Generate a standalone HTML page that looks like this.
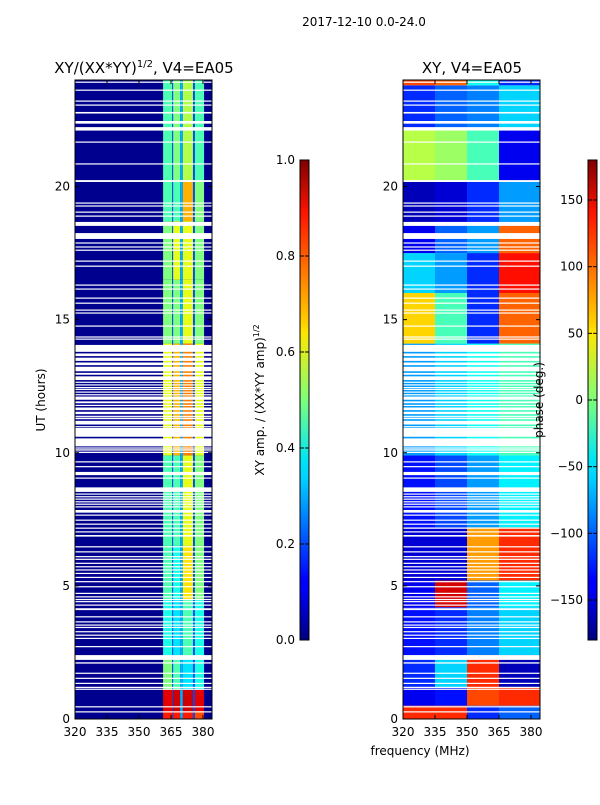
<!DOCTYPE html>
<html><head><meta charset="utf-8">
<style>
html,body{margin:0;padding:0;background:#fff;}
svg text{font-family:"DejaVu Sans","Liberation Sans",sans-serif;fill:#000;}
</style></head>
<body>
<svg id="fig" width="600" height="800" viewBox="0 0 600 800">
<defs>
<linearGradient id="jet" x1="0" y1="1" x2="0" y2="0">
<stop offset="0" stop-color="#00007f"/><stop offset="0.11" stop-color="#0000ff"/><stop offset="0.125" stop-color="#0000ff"/>
<stop offset="0.34" stop-color="#00d4ff"/><stop offset="0.375" stop-color="#00e5f7"/><stop offset="0.5" stop-color="#7dff7a"/>
<stop offset="0.64" stop-color="#ffe600"/><stop offset="0.66" stop-color="#ffd000"/><stop offset="0.89" stop-color="#ff1300"/><stop offset="1" stop-color="#7f0000"/>
</linearGradient>
</defs>
<text x="364" y="26" font-size="12" text-anchor="middle">2017-12-10 0.0-24.0</text>
<text x="144" y="73" font-size="15" text-anchor="middle">XY/(XX*YY)<tspan font-size="10" dy="-6">1/2</tspan><tspan dy="6">, V4=EA05</tspan></text>
<text x="472" y="73" font-size="15" text-anchor="middle">XY, V4=EA05</text>
<g id="ampPanel"></g>
<g id="phPanel"></g>
<g id="axes"></g>
<text transform="translate(45,400) rotate(-90)" font-size="12" text-anchor="middle">UT (hours)</text>
<text x="420" y="755" font-size="12" text-anchor="middle">frequency (MHz)</text>
<rect x="300" y="160" width="9" height="480" fill="url(#jet)" stroke="#000" stroke-width="1"/>
<rect x="588" y="160" width="9" height="480" fill="url(#jet)" stroke="#000" stroke-width="1"/>
<text transform="translate(264,400) rotate(-90)" font-size="12" text-anchor="middle">XY amp. / (XX*YY amp)<tspan font-size="8" dy="-5">1/2</tspan></text>
<text transform="translate(543,400) rotate(-90)" font-size="12" text-anchor="middle">phase (deg.)</text>
<g id="cbticks"></g>
</svg>
<script>
// ---- data ----
const utBands = [0,0.3,1.1,2.4,4.5,6.5,9.9,14.1,16.5,18.7,20.2,24];
const ampCol1 = [0.85,0.9,0.5,0.4,0.45,0.45,0.6,0.5,0.5,0.45,0.45];
const ampCol2 = [0.85,0.92,0.45,0.35,0.4,0.45,0.7,0.5,0.6,0.45,0.5];
const ampCol3 = [0.85,0.92,0.35,0.45,0.65,0.6,0.75,0.6,0.6,0.7,0.55];
const ampCol4 = [0.8,0.9,0.4,0.4,0.5,0.5,0.6,0.5,0.5,0.5,0.45];
const phBands = [0,0.5,1.2,2.4,4.2,5.2,7.2,9.9,14.1,16,17.5,18.6,20.2,22.2,23.8,24];
const phSeg1 = [120,-140,-120,-130,-140,-150,-130,-80,60,-60,-140,-160,20,-120,110];
const phSeg2 = [120,-130,-60,-120,150,-150,-110,-60,-20,-80,-100,-150,10,-100,100];
const phSeg3 = [-120,110,120,-90,-100,80,-80,-40,-120,-120,-80,-120,-20,-90,-40];
const phSeg4 = [-100,120,-160,-60,-50,120,-50,-20,100,130,100,-80,-140,-60,-120];
const gaps = [[0.25,0.29],[0.44,0.48],[1.1,1.14],[1.17,1.21],[1.32,1.36],[1.51,1.55],[1.7,1.74],[2.08,2.13],[2.22,2.4],[2.7,2.74],[3.01,3.05],[3.13,3.17],[3.26,3.3],[3.42,3.46],[3.51,3.55],[3.63,3.67],[3.82,3.86],[4.09,4.16],[4.26,4.3],[4.39,4.43],[4.47,4.51],[4.57,4.61],[4.7,4.74],[4.95,4.99],[5.14,5.18],[5.3,5.34],[5.45,5.49],[5.58,5.62],[5.7,5.74],[5.83,5.87],[5.98,6.02],[6.08,6.12],[6.26,6.3],[6.45,6.49],[6.85,6.91],[7.01,7.05],[7.15,7.19],[7.3,7.34],[7.45,7.49],[7.64,7.68],[7.75,7.85],[7.95,7.99],[8.05,8.09],[8.14,8.18],[8.24,8.28],[8.33,8.37],[8.43,8.47],[8.53,8.7],[9.03,9.07],[9.16,9.28],[9.46,9.5],[9.64,9.68],[9.99,10.04],[10.08,10.13],[10.17,10.2],[10.24,10.54],[10.6,10.93],[10.99,11.0],[11.06,11.2],[11.26,11.32],[11.38,11.39],[11.45,11.54],[11.6,11.7],[11.76,11.8],[11.86,11.93],[11.99,12.11],[12.17,12.2],[12.26,12.3],[12.36,12.4],[12.46,12.47],[12.53,12.57],[12.63,12.67],[12.73,12.87],[12.93,13.0],[13.06,13.23],[13.29,13.39],[13.45,13.57],[13.63,13.73],[13.79,14.05],[14.25,14.29],[14.33,14.37],[14.74,14.78],[15.23,15.27],[15.34,15.38],[15.6,15.64],[15.79,15.83],[16.13,16.17],[16.28,16.32],[16.99,17.03],[17.18,17.22],[17.59,17.63],[17.71,17.75],[17.86,17.9],[18.03,18.25],[18.52,18.67],[18.87,18.91],[19.02,19.06],[19.25,19.29],[19.36,19.4],[20.17,20.24],[20.83,20.87],[21.65,21.69],[22.1,22.23],[22.36,22.46],[22.74,22.8],[23.04,23.08],[23.19,23.23],[23.6,23.64],[23.9,23.94]];
const yTicks = [0,5,10,15,20];
const xTicks = [320,335,350,365,380];
const ampTicks = [0.0,0.2,0.4,0.6,0.8,1.0];
const phTicks = [-150,-100,-50,0,50,100,150];

// ---- scales ----
const NS='http://www.w3.org/2000/svg';
const Y0=719,Y1=80;
const yS = h => Y0-(h/24)*(Y0-Y1);
const xL = f => 75+(f-320)*(32/15);
const xR = f => 403+(f-320)*(32/15);
function jet(v){v=Math.max(0,Math.min(1,v));
 const c=x=>Math.round(255*Math.max(0,Math.min(1,x)));
 const r=c(Math.min(4*v-1.5,-4*v+4.5)),g=c(Math.min(4*v-0.5,-4*v+3.5)),b=c(Math.min(4*v+0.5,-4*v+2.5));
 return `rgb(${r},${g},${b})`;}
function rect(g,x,y,w,h,fill,name){const r=document.createElementNS(NS,'rect');
 r.setAttribute('x',x);r.setAttribute('y',y);r.setAttribute('width',w);r.setAttribute('height',h);r.setAttribute('fill',fill);
 
 
 g.appendChild(r);return r;}
function txt(g,x,y,s,anchor,name){const t=document.createElementNS(NS,'text');
 t.setAttribute('x',x);t.setAttribute('y',y);t.setAttribute('font-size','12');t.setAttribute('text-anchor',anchor);t.textContent=s;
 
 
 g.appendChild(t);}
function line(g,x1,y1,x2,y2,name){const l=document.createElementNS(NS,'line');
 l.setAttribute('x1',x1);l.setAttribute('y1',y1);l.setAttribute('x2',x2);l.setAttribute('y2',y2);l.setAttribute('stroke','#000');l.setAttribute('stroke-width','1');
 
 
 g.appendChild(l);}

// ---- amplitude panel ----
const aG=document.getElementById('ampPanel');
rect(aG,75,80,137,639,'#00008f','amp-background');
const colEdges=[[361.3,365.5],[366,369.3],[370.5,375.3],[376.2,380.5]];
const ampCols=[ampCol1,ampCol2,ampCol3,ampCol4];
for(let i=0;i<utBands.length-1;i++){
 const yt=yS(utBands[i+1]),yb=yS(utBands[i]);
 rect(aG,xL(365.5),yt,xL(366)-xL(365.5),yb-yt,jet(0.2),'amp-separator');
 rect(aG,xL(375.3),yt,xL(376.2)-xL(375.3),yb-yt,jet(0.2),'amp-separator');
 for(let c=0;c<4;c++){const e=colEdges[c];
  rect(aG,xL(e[0]),yt,xL(e[1])-xL(e[0]),yb-yt,jet(ampCols[c][i]),'amp-cell');}
 rect(aG,xL(369.3),yt,xL(370.5)-xL(369.3),yb-yt,jet(0.3),'amp-separator');
}
// ---- phase panel ----
const pG=document.getElementById('phPanel');
const segEdges=[320,335,350,365,384.2];
const phSegs=[phSeg1,phSeg2,phSeg3,phSeg4];
for(let i=0;i<phBands.length-1;i++){
 const yt=yS(phBands[i+1]),yb=yS(phBands[i]);
 for(let c=0;c<4;c++){
  rect(pG,xR(segEdges[c]),yt,xR(segEdges[c+1])-xR(segEdges[c]),yb-yt,jet((phSegs[c][i]+180)/360),'phase-cell');}
}
// ---- flagged gaps ----
for(const g of gaps){const yt=yS(g[1]),h=Math.max(1.2,yS(g[0])-yS(g[1]));
 rect(aG,75,yt,137,h,'#fff','amp-flag-gap');
 rect(pG,403,yt,137,h,'#fff','phase-flag-gap');}
// ---- axes ----
const ax=document.getElementById('axes');
for(const px of [75,403]){
 const fr=document.createElementNS(NS,'rect');
 fr.setAttribute('x',px);fr.setAttribute('y',80);fr.setAttribute('width',137);fr.setAttribute('height',639);
 fr.setAttribute('fill','none');fr.setAttribute('stroke','#000');
 
 
 ax.appendChild(fr);
 for(const t of yTicks){const y=yS(t);
  line(ax,px,y,px+4,y,'y-tick');line(ax,px+137,y,px+133,y,'y-tick');
  txt(ax,px-5,y+4,String(t),'end','y-tick-label');}
 for(const f of xTicks){const x=px+(f-320)*(32/15);
  line(ax,x,719,x,715,'x-tick');line(ax,x,80,x,84,'x-tick');
  txt(ax,x,736,String(f),'middle','x-tick-label');}
}
// ---- colorbar ticks ----
const cb=document.getElementById('cbticks');
for(const t of ampTicks){const y=640-t*480;
 line(cb,300,y,304,y,'amp-colorbar-tick');line(cb,309,y,305,y,'amp-colorbar-tick');
 txt(cb,295,y+4,t.toFixed(1),'end','amp-colorbar-tick-label');}
for(const t of phTicks){const y=640-(t+180)/360*480;
 line(cb,588,y,592,y,'phase-colorbar-tick');line(cb,597,y,593,y,'phase-colorbar-tick');
 txt(cb,583,y+4,String(t).replace('-','\u2212'),'end','phase-colorbar-tick-label');}
</script>
</body></html>
